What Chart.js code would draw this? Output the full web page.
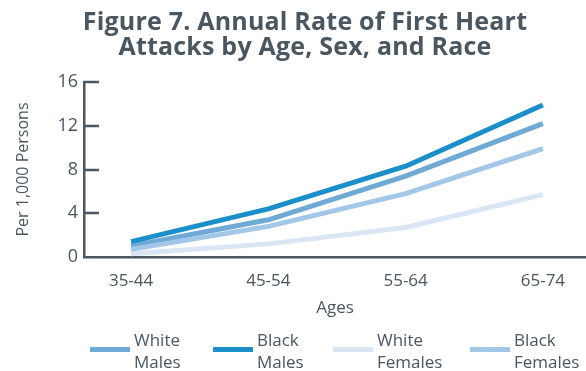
<!DOCTYPE html>
<html>
<head>
<meta charset="utf-8">
<script src="https://cdn.jsdelivr.net/npm/chart.js@4"></script>
<style>
  html, body { margin:0; padding:0; background:#fff; }
  #wrap { position:relative; width:586px; height:371px; overflow:hidden; }
  #title { position:absolute; left:12px; width:586px; top:8px; text-align:center;
    font-family:"Open Sans", sans-serif; font-weight:700; font-size:25px; line-height:25px;
    color:#4a5660; letter-spacing:0.2px; }
  #legend { position:absolute; top:329px; left:0; width:586px; height:45px;
    font-family:"Open Sans", sans-serif; font-size:17px; line-height:22px; color:#4a5660; }
  .item { position:absolute; top:0; }
  .sw { position:absolute; top:18px; width:40px; height:5px; }
  .lb { position:absolute; left:44px; top:0; white-space:nowrap; }
  canvas { position:absolute; left:0; top:0; }
</style>
</head>
<body>
<div id="wrap">
  <canvas id="c" width="586" height="371"></canvas>
  <div id="title">Figure 7. Annual Rate of First Heart<br>Attacks by Age, Sex, and Race</div>
  <div id="legend"></div>
</div>
<script>
const categories = ["35-44", "45-54", "55-64", "65-74"];
const whiteMales   = [1.0, 3.4, 7.4, 12.2];
const blackMales   = [1.4, 4.4, 8.3, 13.9];
const whiteFemales = [0.3, 1.2, 2.7, 5.7];
const blackFemales = [0.7, 2.8, 5.8, 9.9];
const yTicks = [0, 4, 8, 12, 16];
const seriesNames = [["White", "Males"], ["Black", "Males"], ["White", "Females"], ["Black", "Females"]];

const colors = ["#6fa9d6", "#1a8fc9", "#dae6f3", "#a3c7e8"];
const seriesData = [whiteMales, blackMales, whiteFemales, blackFemales];
const legendX = [90, 213, 333, 470];

const INK = "#4a5660";

const datasets = seriesData.map((arr, k) => ({
  label: seriesNames[k].join(" "),
  data: arr.map((v, i) => ({ x: i, y: v })),
  borderColor: colors[k],
  backgroundColor: colors[k],
  borderWidth: 5,
  pointRadius: 0,
  tension: 0,
  fill: false,
  borderCapStyle: 'butt',
  borderJoinStyle: 'round'
}));
const order = [2, 1, 3, 0];
datasets.forEach((d, k) => d.order = order[k]);

const innerTicks = {
  id: 'innerTicks',
  afterDraw(chart) {
    const ctx = chart.ctx, ys = chart.scales.y, area = chart.chartArea;
    ctx.save();
    ctx.strokeStyle = INK;
    ctx.lineWidth = 2.5;
    yTicks.forEach(t => {
      if (t === 0) return;
      const py = Math.round(ys.getPixelForValue(t));
      ctx.beginPath();
      ctx.moveTo(area.left, py);
      ctx.lineTo(area.left + 15, py);
      ctx.stroke();
    });
    ctx.restore();
  }
};

new Chart(document.getElementById('c'), {
  type: 'line',
  data: { datasets },
  plugins: [innerTicks],
  options: {
    responsive: false,
    animation: false,
    layout: { padding: { top: 82, right: 0, bottom: 50, left: 0 } },
    plugins: { legend: { display: false }, title: { display: false }, tooltip: { enabled: false } },
    scales: {
      x: {
        type: 'linear',
        min: -0.343,
        max: 3.314,
        afterBuildTicks: s => { s.ticks = categories.map((c, i) => ({ value: i })); },
        afterFit: s => { s.height = 64; },
        grid: { display: false, drawTicks: false },
        border: { display: true, color: INK, width: 2.5 },
        ticks: {
          callback: (v) => categories[v] ?? '',
          color: INK, padding: 14, maxRotation: 0, autoSkip: false,
          font: { family: "Open Sans", size: 17 }
        },
        title: { display: true, text: "Ages", color: INK,
          font: { family: "Open Sans", size: 17 }, padding: { top: 0, bottom: 3 } }
      },
      y: {
        min: 0, max: 16,
        afterBuildTicks: s => { s.ticks = yTicks.map(v => ({ value: v })); },
        afterFit: s => { s.width = 84; },
        grid: { display: false, drawTicks: false },
        border: { display: true, color: INK, width: 2.5 },
        ticks: { color: INK, padding: 6, font: { family: "Open Sans", size: 18 } },
        title: { display: true, text: "Per 1,000 Persons", color: INK,
          font: { family: "Open Sans", size: 16 }, padding: { top: 14, bottom: 0 } }
      }
    }
  }
});

const leg = document.getElementById('legend');
seriesNames.forEach((nm, k) => {
  const it = document.createElement('div');
  it.className = 'item';
  it.style.left = legendX[k] + 'px';
  const sw = document.createElement('div');
  sw.className = 'sw';
  sw.style.background = colors[k];
  const lb = document.createElement('div');
  lb.className = 'lb';
  lb.innerHTML = nm.join('<br>');
  it.appendChild(sw); it.appendChild(lb);
  leg.appendChild(it);
});
</script>
</body>
</html>
